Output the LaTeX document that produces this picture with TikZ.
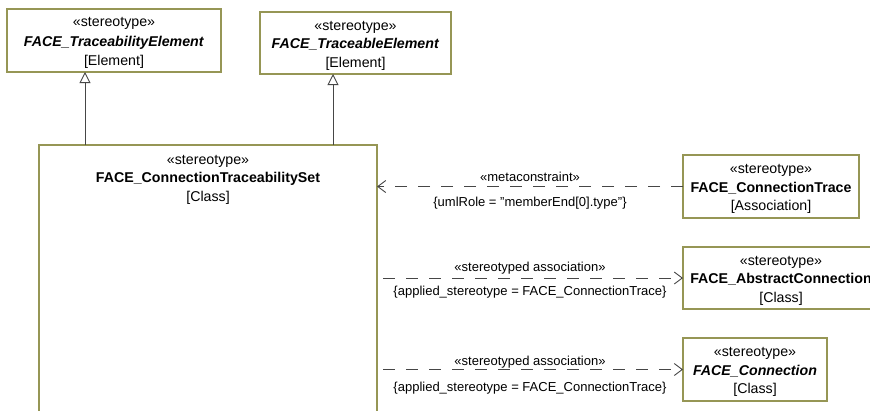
\documentclass[tikz,border=0pt]{standalone}
\usepackage{fontspec}
\setmainfont{Liberation Sans}
\usetikzlibrary{arrows.meta,positioning,calc}
\definecolor{boxc}{RGB}{150,150,85}
\definecolor{linec}{RGB}{70,70,70}
\newcommand{\upstrut}{\rule{0pt}{14bp}}
\tikzset{
  umlbox/.style={draw=boxc, line width=1.1bp, fill=white, inner sep=0pt, outer sep=0pt,
    anchor=north west, align=center, font=\fontsize{14.2bp}{18.5bp}\selectfont},
  lbl/.style={font=\fontsize{13bp}{16bp}\selectfont, inner sep=0pt},
  gen/.style={draw=linec, line width=0.9bp, -{Triangle[open, length=11bp, width=11bp, fill=white]}},
  dep/.style={draw=linec, line width=0.9bp, dash pattern=on 12bp off 11bp, -{Straight Barb[length=8bp, width=12bp]}}
}
\begin{document}
\begin{tikzpicture}[x=1bp,y=-1bp]
\useasboundingbox (0,0) rectangle (870,410);
\fill[white] (0,0) rectangle (870,410);
\clip (0,0) rectangle (870,410);

\node[umlbox, minimum width=214bp, minimum height=63bp, font=\fontsize{14.2bp}{19.5bp}\selectfont] (tel) at (7,9)
  {\upstrut«stereotype»\\ \textbf{\textit{FACE\_TraceabilityElement}}\\ {[Element]}};
\node[umlbox, minimum width=191bp, minimum height=62bp] (tble) at (260,12)
  {\upstrut«stereotype»\\ \textbf{\textit{FACE\_TraceableElement}}\\ {[Element]}};
\node[umlbox, minimum width=338bp, minimum height=300bp] (set) at (39,145) {};
\node[align=center, anchor=north, inner sep=0pt, font=\fontsize{14.2bp}{18.5bp}\selectfont] (settext) at ([yshift=-10bp]set.north)
  {«stereotype»\\ \textbf{FACE\_ConnectionTraceabilitySet}\\ {[Class]}};
\node[umlbox, minimum width=176bp, minimum height=63bp] (trace) at (683,155)
  {\upstrut«stereotype»\\ \textbf{FACE\_ConnectionTrace}\\ {[Association]}};
\node[umlbox, minimum width=196bp, minimum height=62bp] (abs) at (683,247)
  {\upstrut«stereotype»\\ \textbf{FACE\_AbstractConnection}\\ {[Class]}};
\node[umlbox, minimum width=144bp, minimum height=63bp] (conn) at (683,338)
  {\upstrut«stereotype»\\ \textbf{\textit{FACE\_Connection}}\\ {[Class]}};

% generalizations
\draw[gen] ([xshift=46bp]set.north west) -- ([xshift=46bp]set.north west |- tel.south);
\draw[gen] ([xshift=-44bp]set.north east) -- ([xshift=-44bp]set.north east |- tble.south);

% dependencies
\draw[dep] (trace.west) -- (trace.west -| set.east)
  node[lbl, midway, yshift=10bp] (l1a) {«metaconstraint»}
  node[lbl, midway, yshift=-17bp] (l1b) {\{umlRole = "memberEnd[0].type"\}};
\draw[dep] ([xshift=6bp]abs.west -| set.east) -- (abs.west)
  node[lbl, pos=0.49, yshift=10bp] (l2a) {«stereotyped association»}
  node[lbl, pos=0.49, yshift=-14bp] (l2b) {\{applied\_stereotype = FACE\_ConnectionTrace\}};
\draw[dep] ([xshift=6bp]conn.west -| set.east) -- (conn.west)
  node[lbl, pos=0.49, yshift=7bp] (l3a) {«stereotyped association»}
  node[lbl, pos=0.49, yshift=-19bp] (l3b) {\{applied\_stereotype = FACE\_ConnectionTrace\}};
\end{tikzpicture}
\end{document}
